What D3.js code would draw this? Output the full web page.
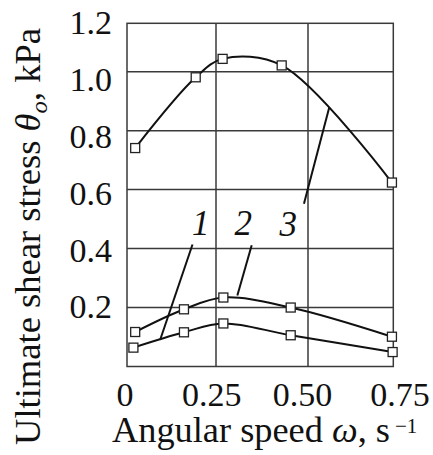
<!DOCTYPE html>
<html>
<head>
<meta charset="utf-8">
<script src="https://cdn.jsdelivr.net/npm/d3@7"></script>
<style>
  html, body { margin: 0; padding: 0; background: #fff; }
  svg { display: block; }
  text { font-family: "Liberation Serif", "Times New Roman", serif; fill: #111; }
</style>
</head>
<body>
<svg id="chart" width="433" height="455"></svg>
<script>
// ---- data ----
const xTicks = [0, 0.25, 0.5, 0.75];
const xTickLabels = ["0", "0.25", "0.50", "0.75"];
const yTicks = [0.2, 0.4, 0.6, 0.8, 1.0, 1.2];
const yTickLabels = ["0.2", "0.4", "0.6", "0.8", "1.0", "1.2"];

const series1X = [0.018, 0.160, 0.270, 0.453, 0.748];
const series1Y = [0.064, 0.116, 0.146, 0.106, 0.049];
const series2X = [0.023, 0.160, 0.270, 0.453, 0.746];
const series2Y = [0.117, 0.194, 0.234, 0.200, 0.101];
const series3X = [0.023, 0.193, 0.268, 0.4285, 0.746];
const series3Y = [0.741, 0.981, 1.053, 1.026, 0.624];

const curveLabels = ["1", "2", "3"];
const labelX = [0.207, 0.324, 0.446];
const labelY = [0.447, 0.447, 0.444];
// leader lines: [x1, y1, x2, y2] in data units
const leader1 = [0.184, 0.414, 0.093, 0.090];
const leader2 = [0.347, 0.411, 0.308, 0.241];
const leader3 = [0.5624, 0.8796, 0.489, 0.552];

const FONT = "Liberation Serif, Times New Roman, serif";

// ---- scales ----
const x = d3.scaleLinear().domain([0, 0.25, 0.5, 0.75]).range([127, 216, 308, 393.3]);
const y = d3.scaleLinear().domain([0, 1.0, 1.2]).range([366.5, 71.7, 23.3]);
const xLab = d3.scaleLinear().domain([0, 0.25, 0.5, 0.75]).range([125, 211.7, 302.5, 400]);
const yLab = d3.scaleLinear().domain([0.2, 1.2]).range([318.3, 34.3]);

const svg = d3.select("#chart");

// grid
const grid = svg.append("g").attr("stroke", "#3a3a3a").attr("stroke-width", 1.5).attr("fill", "none");
grid.selectAll("line.v").data(xTicks.slice(1, 3)).join("line")
  .attr("x1", d => x(d)).attr("x2", d => x(d))
  .attr("y1", y(0)).attr("y2", y(1.2));
grid.selectAll("line.h").data(yTicks.slice(0, 5)).join("line")
  .attr("x1", x(0)).attr("x2", x(0.75))
  .attr("y1", d => y(d)).attr("y2", d => y(d));
grid.append("rect")
  .attr("x", x(0)).attr("y", y(1.2))
  .attr("width", x(0.75) - x(0)).attr("height", y(0) - y(1.2));

// tick labels
svg.append("g").selectAll("text").data(yTicks).join("text")
  .attr("font-family", FONT)
  .attr("x", 112).attr("y", d => yLab(d))
  .attr("text-anchor", "end").attr("font-size", 34)
  .text((d, i) => yTickLabels[i]);
svg.append("g").selectAll("text").data(xTicks).join("text")
  .attr("font-family", FONT)
  .attr("x", d => xLab(d)).attr("y", 406)
  .attr("text-anchor", "middle").attr("font-size", 34)
  .text((d, i) => xTickLabels[i]);

// curves
const series = [
  {xs: series1X, ys: series1Y},
  {xs: series2X, ys: series2Y},
  {xs: series3X, ys: series3Y}
];
const line = d3.line().x(d => x(d[0])).y(d => y(d[1])).curve(d3.curveCatmullRom.alpha(0.5));
series.forEach(s => {
  const pts = s.xs.map((v, i) => [v, s.ys[i]]);
  svg.append("path").datum(pts)
    .attr("d", line).attr("fill", "none")
    .attr("stroke", "#111").attr("stroke-width", 2);
});

// leader lines
[leader1, leader2, leader3].forEach(l => {
  svg.append("line")
    .attr("x1", x(l[0])).attr("y1", y(l[1]))
    .attr("x2", x(l[2])).attr("y2", y(l[3]))
    .attr("stroke", "#111").attr("stroke-width", 2);
});

// markers
series.forEach(s => {
  svg.append("g").selectAll("rect").data(s.xs).join("rect")
    .attr("x", (d) => x(d) - 4.5)
    .attr("y", (d, i) => y(s.ys[i]) - 4.5)
    .attr("width", 9).attr("height", 9)
    .attr("fill", "#fff").attr("stroke", "#222").attr("stroke-width", 1.3);
});

// curve number labels
svg.append("g").selectAll("text").data(curveLabels).join("text")
  .attr("font-family", FONT)
  .attr("x", (d, i) => x(labelX[i])).attr("y", (d, i) => y(labelY[i]))
  .attr("text-anchor", "middle").attr("font-size", 35).attr("font-style", "italic")
  .text(d => d);

// axis titles
const xt = svg.append("text").attr("font-family", FONT)
  .attr("x", 112).attr("y", 441.7)
  .attr("font-size", 35).attr("textLength", 278).attr("lengthAdjust", "spacingAndGlyphs");
xt.append("tspan").text("Angular speed ");
xt.append("tspan").attr("font-style", "italic").text("ω");
xt.append("tspan").text(", s");
svg.append("text").attr("font-family", FONT)
  .attr("x", 395).attr("y", 433).attr("font-size", 21).text("−1");

const yt = svg.append("text").attr("font-family", FONT)
  .attr("transform", "translate(40,236.5) rotate(-90)")
  .attr("text-anchor", "middle").attr("font-size", 35.5)
  .attr("textLength", 417).attr("lengthAdjust", "spacingAndGlyphs");
yt.append("tspan").text("Ultimate shear stress ");
yt.append("tspan").attr("font-style", "italic").text("θ");
yt.append("tspan").attr("font-style", "italic").attr("font-size", 24).attr("dy", 7).text("o");
yt.append("tspan").attr("dy", -7).text(", kPa");
</script>
</body>
</html>
